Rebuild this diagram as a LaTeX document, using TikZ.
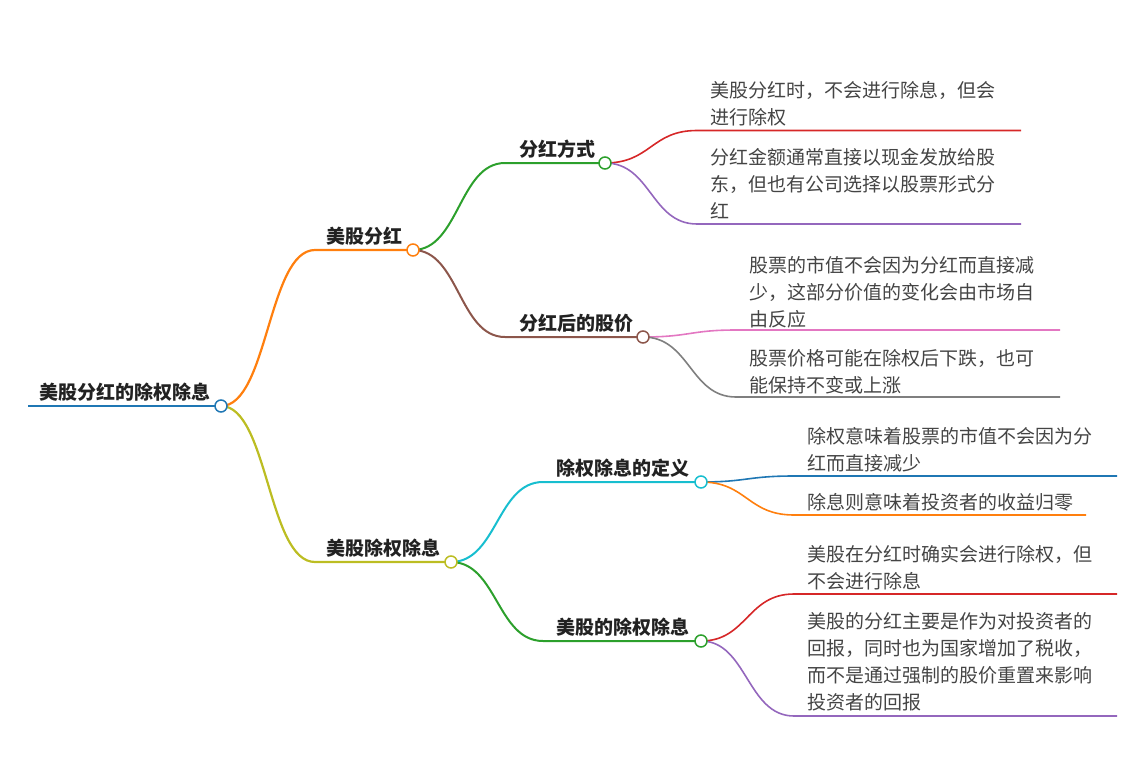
\documentclass[tikz,border=0pt]{standalone}
\usepackage{fontspec}
\setmainfont{Noto Sans CJK SC}
\definecolor{cblue}{HTML}{1F77B4}
\definecolor{corange}{HTML}{FF7F0E}
\definecolor{cgreen}{HTML}{2CA02C}
\definecolor{cred}{HTML}{D62728}
\definecolor{cpurple}{HTML}{9467BD}
\definecolor{cbrown}{HTML}{8C564B}
\definecolor{cpink}{HTML}{E377C2}
\definecolor{cgray}{HTML}{7F7F7F}
\definecolor{colive}{HTML}{BCBD22}
\definecolor{ccyan}{HTML}{17BECF}
\definecolor{titlec}{HTML}{222222}
\definecolor{leafc}{HTML}{444444}
\begin{document}
\begin{tikzpicture}[x=1pt,y=-1pt]
				\tikzstyle{Dot} = [circle, draw, fill=white, minimum size=12, inner sep=0pt, line width=1.5]
				\tikzstyle{Title} = [anchor=base west, inner sep=0pt, text=titlec, font=\bfseries\fontsize{19}{27}\selectfont]
				\tikzstyle{Leaf} = [anchor=base west, inner sep=0pt, align=left, text=leafc, font=\fontsize{19}{27}\selectfont]
				\useasboundingbox (0,0) rectangle (1143,768);
				% points
				\coordinate (rootS) at (28,406);
				\coordinate (root) at (221,406);
				\coordinate (AS) at (315,250);
				\coordinate (A) at (413,250);
				\coordinate (BS) at (315,562);
				\coordinate (B) at (451,562);
				\coordinate (A1S) at (505,163);
				\coordinate (A1) at (605,163);
				\coordinate (A2S) at (505,337);
				\coordinate (A2) at (643,337);
				\coordinate (B1S) at (543,482);
				\coordinate (B1) at (701,482);
				\coordinate (B2S) at (543,641);
				\coordinate (B2) at (701,641);
				\coordinate (A1aS) at (697,130.5);
				\coordinate (A1aE) at (1021,130.5);
				\coordinate (A1bS) at (697,224);
				\coordinate (A1bE) at (1021,224);
				\coordinate (A2aS) at (736,330);
				\coordinate (A2aE) at (1060,330);
				\coordinate (A2bS) at (736,397);
				\coordinate (A2bE) at (1060,397);
				\coordinate (B1aS) at (794,476);
				\coordinate (B1aE) at (1117,476);
				\coordinate (B1bS) at (794,515);
				\coordinate (B1bE) at (1086,515);
				\coordinate (B2aS) at (794,594);
				\coordinate (B2aE) at (1117,594);
				\coordinate (B2bS) at (794,716);
				\coordinate (B2bE) at (1117,716);
				% lines
				\draw[cblue, line width=2.5] (rootS) to (root);
				\draw[corange, line width=2.2] (root) .. controls (268,406) and (268,250) .. (AS) to (A);
				\draw[colive, line width=2.2] (root) .. controls (268,406) and (268,562) .. (BS) to (B);
				\draw[cgreen, line width=2] (A) .. controls (459,250) and (459,163) .. (A1S) to (A1);
				\draw[cbrown, line width=2] (A) .. controls (459,250) and (459,337) .. (A2S) to (A2);
				\draw[ccyan, line width=2] (B) .. controls (497,562) and (497,482) .. (B1S) to (B1);
				\draw[cgreen, line width=2] (B) .. controls (497,562) and (497,641) .. (B2S) to (B2);
				\draw[cred, line width=1.6] (A1) .. controls (651,163) and (651,130.5) .. (A1aS) to (A1aE);
				\draw[cpurple, line width=1.6] (A1) .. controls (651,163) and (651,224) .. (A1bS) to (A1bE);
				\draw[cpink, line width=1.6] (A2) .. controls (690,337) and (690,330) .. (A2aS) to (A2aE);
				\draw[cgray, line width=1.6] (A2) .. controls (690,337) and (690,397) .. (A2bS) to (A2bE);
				\draw[cblue, line width=1.6] (B1) .. controls (747,482) and (747,476) .. (B1aS) to (B1aE);
				\draw[corange, line width=1.6] (B1) .. controls (747,482) and (747,515) .. (B1bS) to (B1bE);
				\draw[cred, line width=1.6] (B2) .. controls (747,641) and (747,594) .. (B2aS) to (B2aE);
				\draw[cpurple, line width=1.6] (B2) .. controls (747,641) and (747,716) .. (B2bS) to (B2bE);
				% dots
				\node (rootdot) at (root) [Dot, draw=cblue] {};
				\node (Adot) at (A) [Dot, draw=corange] {};
				\node (Bdot) at (B) [Dot, draw=colive] {};
				\node (A1dot) at (A1) [Dot, draw=cgreen] {};
				\node (A2dot) at (A2) [Dot, draw=cbrown] {};
				\node (B1dot) at (B1) [Dot, draw=ccyan] {};
				\node (B2dot) at (B2) [Dot, draw=cgreen] {};
				% texts
				\node (rootT) at (39,399) [Title] {美股分红的除权除息};
				\node (AT) at (326,243) [Title] {美股分红};
				\node (BT) at (326,555) [Title] {美股除权除息};
				\node (A1T) at (519,156) [Title] {分红方式};
				\node (A2T) at (519,330) [Title] {分红后的股价};
				\node (B1T) at (556,475) [Title] {除权除息的定义};
				\node (B2T) at (556,634) [Title] {美股的除权除息};
				\node (A1aT) at (710,124) [Leaf] {美股分红时，不会进行除息，但会\\进行除权};
				\node (A1bT) at (710,218) [Leaf] {分红金额通常直接以现金发放给股\\东，但也有公司选择以股票形式分\\红};
				\node (A2aT) at (749,326) [Leaf] {股票的市值不会因为分红而直接减\\少，这部分价值的变化会由市场自\\由反应};
				\node (A2bT) at (749,392) [Leaf] {股票价格可能在除权后下跌，也可\\能保持不变或上涨};
				\node (B1aT) at (807,470) [Leaf] {除权意味着股票的市值不会因为分\\红而直接减少};
				\node (B1bT) at (807,509) [Leaf] {除息则意味着投资者的收益归零};
				\node (B2aT) at (807,588) [Leaf] {美股在分红时确实会进行除权，但\\不会进行除息};
				\node (B2bT) at (807,709) [Leaf] {美股的分红主要是作为对投资者的\\回报，同时也为国家增加了税收，\\而不是通过强制的股价重置来影响\\投资者的回报};
			\end{tikzpicture}
\end{document}
